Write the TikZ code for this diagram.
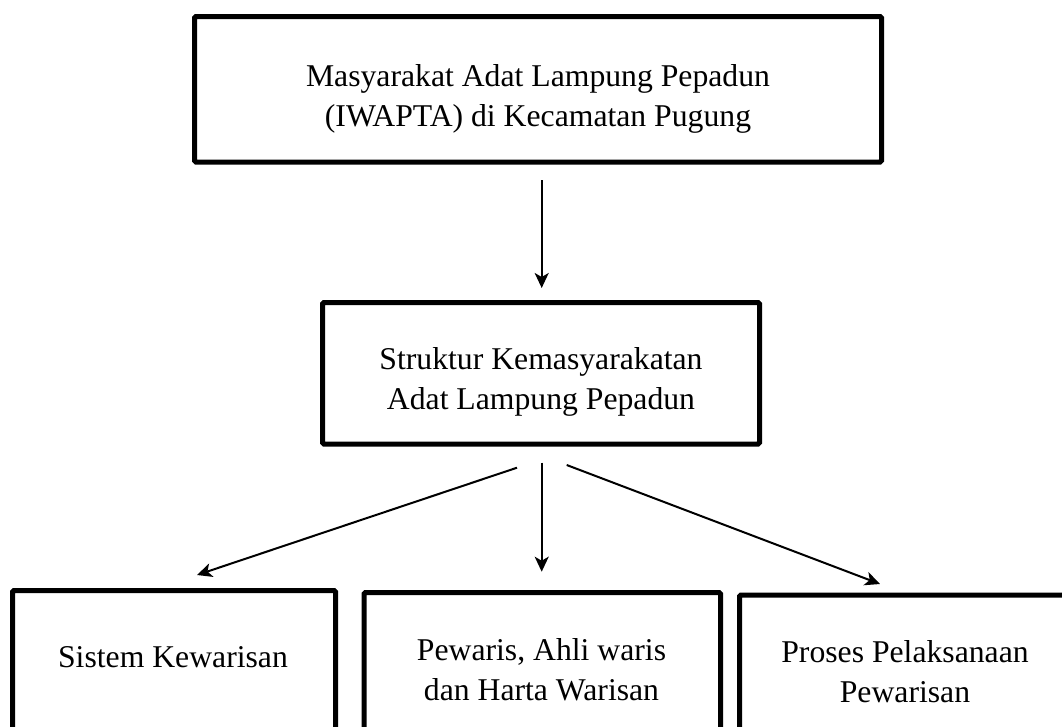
\documentclass[tikz,border=0pt]{standalone}
\usepackage{fontspec}
\setmainfont{Liberation Serif}
\usetikzlibrary{arrows.meta}
\tikzset{
  boxnode/.style={draw, line width=5pt, rounded corners=1.5pt, inner sep=0pt, outer sep=0pt},
  txt/.style={align=center, inner sep=0pt, font=\fontsize{31.7}{40}\selectfont, anchor=base},
  arr/.style={line width=2pt, -{Stealth[length=15pt,width=14pt,inset=4pt]}}
}
\begin{document}
\begin{tikzpicture}[x=1pt,y=-1pt]
\useasboundingbox (0,0) rectangle (1062,726);
\clip (0,0) rectangle (1062,726);
% boxes
\node[boxnode, minimum width=687pt, minimum height=145.5pt] (top) at (538,89.25) {};
\node[boxnode, minimum width=437pt, minimum height=141.5pt] (mid) at (541,373.25) {};
\node[boxnode, minimum width=323pt, minimum height=200pt] (bl) at (174,690.5) {};
\node[boxnode, minimum width=356.5pt, minimum height=200pt] (bm) at (542.25,692.5) {};
\node[boxnode, minimum width=331.5pt, minimum height=200pt] (br) at (905.25,695) {};
% texts (anchor base = baseline of last line)
\node[txt] (ttop) at (538,126.7) {Masyarakat Adat Lampung Pepadun\\(IWAPTA) di Kecamatan Pugung};
\node[txt] (tmid) at (541,409) {Struktur Kemasyarakatan\\Adat Lampung Pepadun};
\node[txt] (tbl) at (173,667) {Sistem Kewarisan};
\node[txt] (tbm) at (541.5,700) {Pewaris, Ahli waris\\dan Harta Warisan};
\node[txt] (tbr) at (905,702) {Proses Pelaksanaan\\Pewarisan};
% connector ends
\coordinate (a1s) at (541.7,180);
\coordinate (a1e) at (541.7,288);
\coordinate (a2s) at (517,467.7);
\coordinate (a2e) at (197,575);
\coordinate (a3s) at (541.7,462.7);
\coordinate (a3e) at (541.7,571.7);
\coordinate (a4s) at (566.7,465);
\coordinate (a4e) at (880,584);
\draw[arr] (a1s) -- (a1e);
\draw[arr] (a2s) -- (a2e);
\draw[arr] (a3s) -- (a3e);
\draw[arr] (a4s) -- (a4e);
\end{tikzpicture}
\end{document}
